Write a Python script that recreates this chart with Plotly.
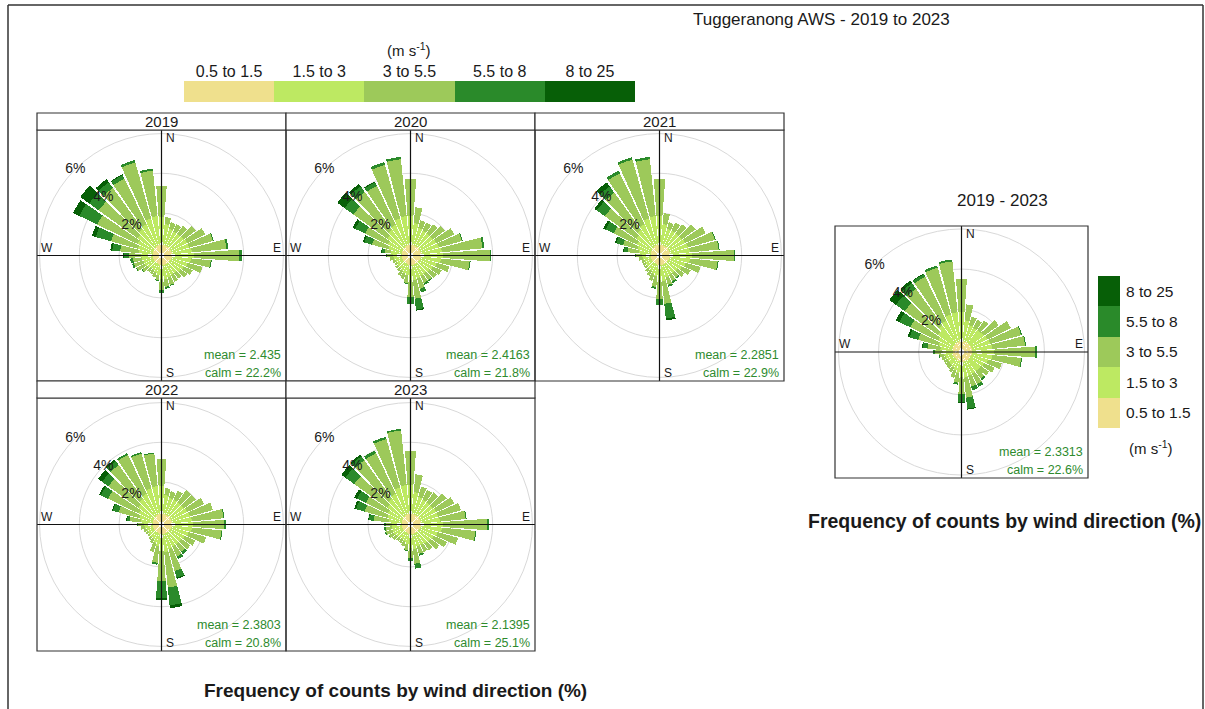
import plotly.graph_objects as go

W, H = 1205, 709
FONT = "Liberation Sans, Arial, sans-serif"

# Wind direction bins (degrees, bar centres) and speed classes (m/s)
directions = list(range(10, 370, 10))
speed_bins = ["0.5 to 1.5", "1.5 to 3", "3 to 5.5", "5.5 to 8", "8 to 25"]
bin_colors = ["#efe08d", "#bde962", "#9dc95a", "#2a8a2a", "#075f07"]

# Frequency of counts (%) per speed class, directions 10..360
freq_2019 = [
    [.40, .40, .40, .40, .40, .40, .40, .40, .40, .40, .38, .36, .35, .35, .35, .35, .35, .35,
     .33, .32, .30, .30, .30, .30, .30, .30, .30, .30, .32, .33, .35, .36, .38, .40, .40, .40],
    [1.05, .85, .80, .80, .85, .90, .90, 1.00, 1.10, .95, .85, .75, .70, .60, .60, .65, .70, .70,
     .52, .45, .38, .38, .45, .50, .50, .55, .60, .70, .78, .87, 1.00, 1.14, 1.22, 1.40, 1.45, 1.40],
    [.35, .35, .40, .50, .75, 1.00, 1.25, 1.75, 2.25, 1.00, .77, .49, .40, .35, .40, .40, .40, .55,
     .25, .23, .22, .22, .30, .45, .50, .45, .60, .95, 1.40, 2.25, 2.40, 2.55, 2.55, 2.93, 2.30, 1.55],
    [0, 0, 0, 0, 0, 0, .05, .10, .15, .05, 0, 0, 0, 0, 0, .05, .10, .15,
     .05, 0, 0, 0, .05, .05, .10, .15, .25, .40, .80, 1.00, .60, .35, .20, .12, .10, 0],
    [0, 0, 0, 0, 0, 0, 0, 0, 0, 0, 0, 0, 0, 0, 0, 0, 0, 0,
     0, 0, 0, 0, 0, 0, 0, 0, .05, .10, .20, .35, .55, .20, .05, 0, 0, 0],
]
freq_2020 = [
    [.40, .40, .40, .40, .40, .40, .40, .40, .40, .40, .38, .36, .35, .35, .35, .35, .35, .35,
     .33, .32, .30, .30, .30, .30, .30, .30, .30, .30, .32, .33, .35, .36, .38, .40, .40, .40],
    [1.10, .90, .85, .85, .85, .90, .95, 1.05, 1.10, 1.00, .85, .75, .70, .65, .65, .70, .75, .75,
     .55, .48, .42, .38, .35, .33, .35, .40, .45, .55, .70, .80, .95, 1.10, 1.20, 1.40, 1.45, 1.45],
    [.80, .40, .45, .55, .75, 1.00, 1.20, 2.05, 2.35, 1.45, .67, .49, .45, .40, .40, .55, .95, .85,
     .37, .30, .28, .17, .15, .12, .15, .20, .30, .32, .85, 1.27, 2.10, 2.34, 2.17, 2.80, 2.88, 1.85],
    [0, 0, 0, 0, 0, 0, .05, .10, .05, .05, 0, 0, 0, .05, .10, .20, .55, .35,
     .05, 0, 0, 0, 0, 0, 0, 0, .05, .15, .40, .55, .55, .35, .20, .15, .12, 0],
    [0, 0, 0, 0, 0, 0, 0, 0, 0, 0, 0, 0, 0, 0, 0, 0, .05, 0,
     0, 0, 0, 0, 0, 0, 0, 0, 0, .03, .08, .15, .45, .15, .05, 0, 0, 0],
]
freq_2021 = [
    [.40, .40, .40, .40, .40, .40, .40, .40, .40, .40, .38, .36, .35, .35, .35, .35, .35, .35,
     .33, .32, .30, .30, .30, .30, .30, .30, .30, .30, .32, .33, .35, .36, .38, .40, .40, .40],
    [1.05, .85, .85, .85, .85, .90, .95, 1.00, 1.10, 1.00, .85, .75, .65, .60, .60, .65, .80, .75,
     .60, .50, .42, .40, .35, .35, .35, .40, .45, .60, .70, .80, .95, 1.10, 1.22, 1.40, 1.45, 1.45],
    [.55, .35, .45, .55, .85, 1.15, 1.40, 1.45, 2.10, 1.40, .77, .49, .40, .30, .35, .40, 1.15, .95,
     .52, .38, .28, .20, .15, .15, .15, .20, .30, .57, .75, 1.30, 1.95, 2.29, 2.85, 3.08, 2.88, 1.85],
    [0, 0, 0, 0, 0, 0, .05, .05, .05, .05, 0, 0, 0, .05, .10, .10, .75, .30,
     .10, 0, 0, 0, 0, 0, 0, 0, .05, .20, .35, .45, .50, .40, .15, .12, .12, 0],
    [0, 0, 0, 0, 0, 0, 0, 0, 0, 0, 0, 0, 0, 0, 0, 0, .10, 0,
     0, 0, 0, 0, 0, 0, 0, 0, 0, .03, .08, .12, .15, .25, 0, 0, 0, 0],
]
freq_2022 = [
    [.40, .40, .40, .40, .40, .40, .40, .40, .40, .40, .38, .36, .35, .35, .35, .35, .35, .35,
     .33, .32, .30, .30, .30, .30, .30, .30, .30, .30, .32, .33, .35, .36, .38, .40, .40, .40],
    [.95, .85, .85, .85, .85, .90, .95, 1.00, 1.05, 1.00, .90, .80, .75, .75, .75, .80, .90, .85,
     .65, .50, .40, .35, .33, .33, .35, .40, .45, .60, .70, .80, .95, 1.10, 1.20, 1.35, 1.40, 1.40],
    [.35, .35, .50, .75, .75, .95, 1.20, 1.60, 1.55, 1.50, .92, .59, .55, .45, .55, 1.15, 1.80, 1.50,
     .82, .48, .20, .15, .12, .12, .15, .20, .30, .57, 1.08, 1.72, 1.85, 2.09, 2.17, 1.82, 1.65, 1.35],
    [0, 0, 0, 0, 0, 0, 0, .05, .10, .05, 0, 0, 0, .15, .15, .35, .90, .85,
     .10, 0, 0, 0, 0, 0, 0, 0, .05, .15, .30, .40, .40, .25, .10, .08, .05, 0],
    [0, 0, 0, 0, 0, 0, 0, 0, 0, 0, 0, 0, 0, 0, 0, .05, .15, .10,
     0, 0, 0, 0, 0, 0, 0, 0, 0, .03, .05, .10, .25, .10, 0, 0, 0, 0],
]
freq_2023 = [
    [.40, .40, .40, .40, .40, .40, .40, .40, .40, .40, .38, .36, .35, .35, .35, .35, .35, .35,
     .33, .32, .30, .30, .30, .30, .30, .30, .30, .30, .32, .33, .35, .36, .38, .40, .40, .40],
    [1.10, .90, .85, .85, .85, .90, .90, .95, 1.10, 1.05, .90, .80, .75, .70, .65, .65, .75, .70,
     .55, .45, .40, .40, .45, .50, .50, .50, .50, .65, .75, .80, .95, 1.10, 1.20, 1.40, 1.45, 1.45],
    [.90, .55, .55, .60, .85, 1.00, 1.20, 1.30, 2.20, 1.70, 1.07, .74, .55, .40, .40, .40, .75, .50,
     .27, .23, .20, .20, .25, .27, .35, .32, .30, .77, 1.18, 1.22, 2.05, 2.39, 2.27, 2.53, 2.77, 1.70],
    [0, 0, 0, 0, 0, 0, 0, .05, .10, .05, 0, 0, 0, 0, 0, .10, .25, .15,
     .05, 0, 0, 0, 0, .03, .05, .08, .10, .25, .45, .50, .55, .25, .15, .12, .08, 0],
    [0, 0, 0, 0, 0, 0, 0, 0, 0, 0, 0, 0, 0, 0, 0, 0, 0, 0,
     0, 0, 0, 0, 0, 0, 0, 0, 0, .03, .10, .15, .25, .10, 0, 0, 0, 0],
]
freq_all = [
    [.40, .40, .40, .40, .40, .40, .40, .40, .40, .40, .38, .36, .35, .35, .35, .35, .35, .35,
     .33, .32, .30, .30, .30, .30, .30, .30, .30, .30, .32, .33, .35, .36, .38, .40, .40, .40],
    [1.05, .85, .80, .80, .85, .90, .95, 1.00, 1.10, 1.00, .85, .75, .70, .70, .70, .75, .80, .75,
     .60, .50, .42, .38, .35, .35, .38, .42, .50, .62, .72, .82, .97, 1.12, 1.22, 1.40, 1.45, 1.45],
    [.80, .45, .45, .60, .90, 1.30, 1.60, 1.65, 2.05, 1.45, .72, .59, .50, .45, .60, .55, 1.00, .85,
     .47, .38, .28, .22, .20, .20, .22, .25, .40, .65, 1.06, 1.55, 2.03, 2.27, 2.42, 2.43, 2.55, 1.65],
    [0, 0, 0, 0, 0, 0, .05, .05, .10, .05, 0, 0, 0, .10, .15, .20, .55, .40,
     .10, 0, 0, 0, 0, 0, 0, .03, .10, .25, .45, .60, .55, .35, .15, .12, .10, 0],
    [0, 0, 0, 0, 0, 0, 0, 0, 0, 0, 0, 0, 0, 0, 0, 0, .05, .05,
     0, 0, 0, 0, 0, 0, 0, 0, 0, .03, .10, .20, .40, .15, .03, 0, 0, 0],
]

panel_names = ["2019", "2020", "2021", "2022", "2023", "2019 - 2023"]
mean_speed = ["2.435", "2.4163", "2.2851", "2.3803", "2.1395", "2.3313"]
calm_pct = ["22.2", "21.8", "22.9", "20.8", "25.1", "22.6"]
grid_pct = [2, 4, 6]

# Panel placement in pixels: (left, right, strip top or None, plot top, plot bottom, radial max)
layout_px = [
    (37, 286, 113, 130, 381, 6.13),
    (286, 535, 113, 130, 381, 6.13),
    (535, 784, 113, 130, 381, 6.13),
    (37, 286, 381, 398, 651, 6.13),
    (286, 535, 381, 398, 651, 6.13),
    (835, 1088, None, 226, 478, 6.15),
]
freqs = [freq_2019, freq_2020, freq_2021, freq_2022, freq_2023, freq_all]


def fx(x):
    return x / W


def fy(y):
    return 1 - y / H


fig = go.Figure()
shapes, annotations = [], []
line_col = "#333333"
txt_col = "#1a1a1a"
green = "#2e8b2e"

for i, (name, freq, (x0, x1, st, y0, y1, rmax)) in enumerate(zip(panel_names, freqs, layout_px), start=1):
    pid = "polar" if i == 1 else f"polar{i}"
    for b in range(len(speed_bins)):
        fig.add_trace(go.Barpolar(
            r=freq[b], theta=directions, width=8.6, name=speed_bins[b],
            marker=dict(color=bin_colors[b], line=dict(width=0)),
            subplot=pid, showlegend=False, hoverinfo="skip"))
    fig.add_trace(go.Scatterpolar(
        r=grid_pct, theta=[315] * len(grid_pct), mode="text",
        text=[f"{g}%" for g in grid_pct], textposition="middle center",
        textfont=dict(family=FONT, size=14, color=txt_col),
        subplot=pid, showlegend=False, hoverinfo="skip"))

    fig.layout[pid] = dict(
        domain=dict(x=[fx(x0), fx(x1)], y=[fy(y1), fy(y0)]),
        bgcolor="white", hole=0.022, barmode="stack",
        angularaxis=dict(rotation=90, direction="clockwise", showline=False,
                         showgrid=False, showticklabels=False, ticks=""),
        radialaxis=dict(range=[0, rmax], tickvals=grid_pct, showticklabels=False,
                        ticks="", showline=False, gridcolor="#d9d9d9", gridwidth=1),
    )

    cx = (x0 + x1) / 2
    cy = (y0 + y1) / 2
    # crosshair through the rose centre
    shapes.append(dict(type="line", xref="paper", yref="paper", layer="above",
                       x0=fx(cx), x1=fx(cx), y0=fy(y0), y1=fy(y1),
                       line=dict(color="#111111", width=1.2)))
    shapes.append(dict(type="line", xref="paper", yref="paper", layer="above",
                       x0=fx(x0), x1=fx(x1), y0=fy(cy), y1=fy(cy),
                       line=dict(color="#111111", width=1.2)))
    # panel frame and strip
    shapes.append(dict(type="rect", xref="paper", yref="paper", layer="above",
                       x0=fx(x0), x1=fx(x1), y0=fy(y1), y1=fy(y0),
                       line=dict(color=line_col, width=1.2)))
    if st is not None:
        shapes.append(dict(type="rect", xref="paper", yref="paper", layer="above",
                           x0=fx(x0), x1=fx(x1), y0=fy(y0), y1=fy(st),
                           line=dict(color=line_col, width=1.2), fillcolor="white"))
        annotations.append(dict(x=fx(cx), y=fy((st + y0) / 2), text=name, showarrow=False,
                                xref="paper", yref="paper", xanchor="center", yanchor="middle",
                                font=dict(family=FONT, size=15, color=txt_col)))
    else:
        annotations.append(dict(x=fx(1002), y=fy(200), text=name, showarrow=False,
                                xref="paper", yref="paper", xanchor="center", yanchor="middle",
                                font=dict(family=FONT, size=17, color=txt_col)))

    compass = [("N", cx + 2, y0 + 8, "left"), ("S", cx + 2, y1 - 8, "left"),
               ("E", x1 - 3, cy - 8, "right"), ("W", x0 + 2, cy - 8, "left")]
    for lab, ax, ay, anc in compass:
        annotations.append(dict(x=fx(ax), y=fy(ay), text=lab, showarrow=False,
                                xref="paper", yref="paper", xanchor=anc, yanchor="middle",
                                font=dict(family=FONT, size=12, color=txt_col)))
    annotations.append(dict(x=fx(x1 - 3), y=fy(y1 - 26), text=f"mean = {mean_speed[i - 1]}",
                            showarrow=False, xref="paper", yref="paper", xanchor="right",
                            yanchor="middle", font=dict(family=FONT, size=12.5, color=green)))
    annotations.append(dict(x=fx(x1 - 3), y=fy(y1 - 8), text=f"calm = {calm_pct[i - 1]}%",
                            showarrow=False, xref="paper", yref="paper", xanchor="right",
                            yanchor="middle", font=dict(family=FONT, size=12.5, color=green)))

# Speed-class key along the top
fig.add_trace(go.Bar(x=speed_bins, y=[1] * len(speed_bins), width=1,
                     marker=dict(color=bin_colors, line=dict(width=0)),
                     xaxis="x", yaxis="y", showlegend=False, hoverinfo="skip"))
# Speed-class key beside the combined rose
fig.add_trace(go.Bar(y=speed_bins, x=[1] * len(speed_bins), width=1, orientation="h",
                     marker=dict(color=bin_colors, line=dict(width=0)),
                     xaxis="x2", yaxis="y2", showlegend=False, hoverinfo="skip"))

annotations += [
    dict(x=fx(409), y=fy(49), text="(m s<sup>-1</sup>)", showarrow=False, xref="paper", yref="paper",
         xanchor="center", yanchor="middle", font=dict(family=FONT, size=15, color=txt_col)),
    dict(x=fx(1127), y=fy(447), text="(m s<sup>-1</sup>)", showarrow=False, xref="paper", yref="paper",
         xanchor="left", yanchor="middle", font=dict(family=FONT, size=15, color=txt_col)),
    dict(x=fx(821), y=fy(20), text="Tuggeranong AWS - 2019 to 2023", showarrow=False,
         xref="paper", yref="paper", xanchor="center", yanchor="middle",
         font=dict(family=FONT, size=17, color=txt_col)),
    dict(x=fx(395), y=fy(690), text="<b>Frequency of counts by wind direction (%)</b>",
         showarrow=False, xref="paper", yref="paper", xanchor="center", yanchor="middle",
         font=dict(family=FONT, size=19, color=txt_col)),
    dict(x=fx(1004), y=fy(521), text="<b>Frequency of counts by wind direction (%)</b>",
         showarrow=False, xref="paper", yref="paper", xanchor="center", yanchor="middle",
         font=dict(family=FONT, size=19.5, color=txt_col)),
]

# outer frame of the page
for (a0, b0, a1, b1) in [(8, 5, 1203, 5), (8, 5, 8, 709), (1203, 5, 1203, 709)]:
    shapes.append(dict(type="line", xref="paper", yref="paper", x0=fx(a0), y0=fy(b0),
                       x1=fx(a1), y1=fy(b1), line=dict(color=line_col, width=1.5)))

fig.update_layout(
    width=W, height=H, margin=dict(l=0, r=0, t=0, b=0),
    paper_bgcolor="white", plot_bgcolor="white", bargap=0,
    font=dict(family=FONT, color=txt_col),
    xaxis=dict(domain=[fx(184), fx(635)], anchor="y", side="top", type="category",
               showgrid=False, zeroline=False, showline=False, ticks="",
               tickfont=dict(family=FONT, size=16, color=txt_col), fixedrange=True),
    yaxis=dict(domain=[fy(102), fy(81)], anchor="x", range=[0, 1], visible=False, fixedrange=True),
    xaxis2=dict(domain=[fx(1098), fx(1120)], anchor="y2", range=[0, 1], visible=False, fixedrange=True),
    yaxis2=dict(domain=[fy(428), fy(276)], anchor="x2", side="right", type="category",
                showgrid=False, zeroline=False, showline=False, ticks="", ticklabelstandoff=5,
                tickfont=dict(family=FONT, size=15.5, color=txt_col), fixedrange=True),
    shapes=shapes, annotations=annotations,
)

fig.write_html("out.html")
